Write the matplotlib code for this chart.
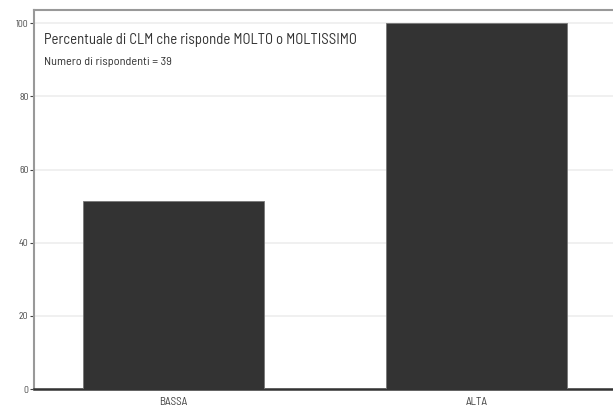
import matplotlib
matplotlib.use('Agg')
import matplotlib.pyplot as plt

# data
categories = ['BASSA', 'ALTA']
percentuali = [51.3, 100.0]
yticks = [0, 20, 40, 60, 80, 100]

plt.rcParams['font.family'] = ['Barlow Semi Condensed', 'DejaVu Sans']

fig = plt.figure(figsize=(6.13, 4.07), dpi=100)
ax = fig.add_axes([0.0555, 0.0442, 0.9445, 0.9312])

x = range(len(categories))
ax.bar(x, percentuali, width=0.595, color='#333333', edgecolor='#777777', linewidth=0.6, zorder=3)

ax.set_xlim(-0.46, 1.45)
ax.set_ylim(0, 103.6)
ax.set_yticks(yticks)
ax.set_xticks(list(x))
ax.set_xticklabels(categories)
ax.yaxis.grid(True, color='#eeeeee', linewidth=1.2, zorder=0)

ax.tick_params(axis='y', labelsize=7, colors='#444444', length=3, width=0.8, pad=1)
ax.tick_params(axis='x', labelsize=8, colors='#444444', length=0, pad=6)

for side in ['left', 'top']:
    ax.spines[side].set_color('#999999')
    ax.spines[side].set_linewidth(1.5)
ax.spines['right'].set_visible(False)
ax.spines['bottom'].set_color('#333333')
ax.spines['bottom'].set_linewidth(1.8)

ax.text(0.018, 0.94, 'Percentuale di CLM che risponde MOLTO o MOLTISSIMO', transform=ax.transAxes,
        fontsize=10.6, color='#333333', va='top', ha='left', zorder=5)
ax.text(0.018, 0.877, 'Numero di rispondenti = 39', transform=ax.transAxes,
        fontsize=8.8, color='#333333', va='top', ha='left', zorder=5)

fig.savefig('out.png', dpi=100)
